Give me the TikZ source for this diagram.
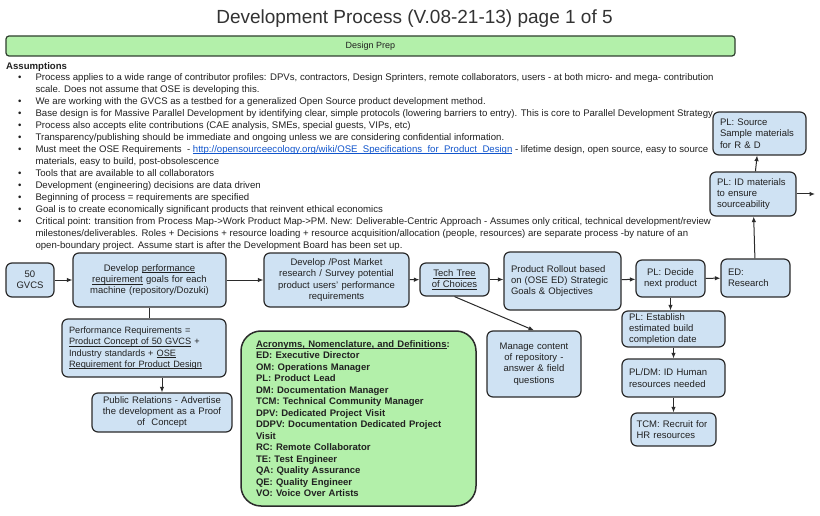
\documentclass[tikz,border=0pt]{standalone}
\usepackage{fontspec}
\setmainfont{Liberation Sans}
\usetikzlibrary{arrows.meta}
\definecolor{boxblue}{HTML}{CFE2F3}
\definecolor{boxgreen}{HTML}{B3F0AA}
\definecolor{linkblue}{HTML}{1155CC}
\definecolor{edge}{HTML}{2B2B2B}
\definecolor{gedge}{HTML}{2F3F2F}
\newcommand{\undl}[1]{\leavevmode\setbox0=\hbox{#1}\rlap{\rule[-1.7pt]{\wd0}{0.55pt}}\box0\relax}
\newcommand{\lnk}[1]{\textcolor{linkblue}{\undl{#1}}}

\begin{document}
\begin{tikzpicture}[x=1pt, y=-1pt,
  every node/.style={text=black!87, font=\fontsize{9.5}{11.3}\selectfont},
  box/.style={draw=edge, fill=boxblue, line width=1.2pt, rounded corners=6pt, inner xsep=7pt, inner ysep=0pt, align=left},
  cbox/.style={box, align=center, inner xsep=3pt},
  arr/.style={-{Latex[length=5.5pt,width=4.5pt]}, line width=1pt, draw=edge}]
  \useasboundingbox[fill=white] (0,0) rectangle (820,516);
  \node[text=black!80, font=\fontsize{19}{22}\selectfont] (title) at (414.5,19) {Development Process (V.08-21-13) page 1 of 5};
  \node[draw=gedge, fill=boxgreen, line width=1.2pt, rounded corners=3pt, minimum width=729pt, minimum height=20pt, inner sep=0pt, font=\fontsize{9}{11}\selectfont] (prep) at (370.5,46) {Design Prep};
  \node[anchor=west, inner sep=0pt, font=\bfseries\fontsize{9.6}{11}\selectfont] (asmh) at (6,67) {Assumptions};
  \node[anchor=north west, inner sep=0pt, font=\fontsize{9.6}{12}\selectfont] (asm) at (0,71.6) {\begin{tabular}{@{\hspace{18pt}}l@{\hspace{14pt}}l@{}}
    \textbullet & Process applies to a wide range of contributor profiles: DPVs, contractors, Design Sprinters, remote collaborators, users - at both micro- and mega- contribution\\
     & scale. Does not assume that OSE is developing this.\\
    \textbullet & We are working with the GVCS as a testbed for a generalized Open Source product development method.\\
    \textbullet & Base design is for Massive Parallel Development by identifying clear, simple protocols (lowering barriers to entry). This is core to Parallel Development Strategy\\
    \textbullet & Process also accepts elite contributions (CAE analysis, SMEs, special guests, VIPs, etc)\\
    \textbullet & Transparency/publishing should be immediate and ongoing unless we are considering confidential information.\\
    \textbullet & Must meet the OSE Requirements~ - \lnk{http://opensourceecology.org/wiki/OSE\_Specifications\_for\_Product\_Design} - lifetime design, open source, easy to source\\
     & materials, easy to build, post-obsolescence\\
    \textbullet & Tools that are available to all collaborators\\
    \textbullet & Development (engineering) decisions are data driven\\
    \textbullet & Beginning of process = requirements are specified\\
    \textbullet & Goal is to create economically significant products that reinvent ethical economics\\
    \textbullet & Critical point: transition from Process Map->Work Product Map->PM. New: Deliverable-Centric Approach - Assumes only critical, technical development/review\\
     & milestones/deliverables. Roles + Decisions + resource loading + resource acquisition/allocation (people, resources) are separate process -by nature of an\\
     & open-boundary project. Assume start is after the Development Board has been set up.
  \end{tabular}};
  \node[box, text width=79pt, minimum height=43pt] (src) at (759.5,133.5) {PL: Source\\Sample materials\\for R \& D};
  \node[box, text width=72pt, minimum height=44pt] (idm) at (753,194) {PL: ID materials\\to ensure\\sourceability};
  \coordinate (idmout) at (815,194);
  \node[cbox, text width=42pt, minimum height=34pt] (gvcs) at (30,280) {50\\GVCS};
  \node[cbox, text width=147pt, minimum height=54pt] (dpr) at (149.5,280) {Develop \undl{performance}\\\undl{requirement} goals for each\\machine (repository/Dozuki)};
  \node[cbox, text width=139pt, minimum height=54pt] (dpm) at (336.5,280) {Develop /Post Market\\research / Survey potential\\product users' performance\\requirements};
  \node[cbox, text width=63pt, minimum height=33pt] (tt) at (454.5,279.5) {\undl{Tech Tree}\\\undl{of Choices}};
  \node[box, text width=103pt, minimum height=58pt] (pro) at (562.5,281) {Product Rollout based\\on (OSE ED) Strategic\\Goals \& Objectives};
  \node[cbox, text width=63pt, minimum height=37pt] (dec) at (670.5,278.5) {PL: Decide\\next product};
  \node[box, text width=55pt, minimum height=38pt] (edr) at (755.5,278) {ED:\\Research};
  \node[box, text width=150pt, minimum height=58pt, font=\fontsize{9.2}{11.3}\selectfont] (preq) at (144,348) {Performance Requirements =\\\undl{Product Concept of 50 GVCS} +\\Industry standards + \undl{OSE}\\\undl{Requirement for Product Design}};
  \node[cbox, text width=134pt, minimum height=39pt, font=\fontsize{9.5}{11}\selectfont] (pr) at (162,412.5) {Public Relations - Advertise\\the development as a Proof\\of~~Concept};
  \node[cbox, text width=88pt, minimum height=66pt] (mc) at (534,364) {Manage content\\of repository -\\answer \& field\\questions};
  \node[draw=edge, fill=boxgreen, line width=1.5pt, rounded corners=20pt, text width=205pt, inner xsep=15pt, minimum height=175pt, align=left, font=\bfseries\fontsize{9.5}{11.5}\selectfont] (acr) at (358.5,418.5) {\undl{Acronyms, Nomenclature, and Definitions}:\\ED: Executive Director\\OM: Operations Manager\\PL: Product Lead\\DM: Documentation Manager\\TCM: Technical Community Manager\\DPV: Dedicated Project Visit\\DDPV: Documentation Dedicated Project\\Visit\\RC: Remote Collaborator\\TE: Test Engineer\\QA: Quality Assurance\\QE: Quality Engineer\\VO: Voice Over Artists};
  \node[box, text width=89pt, minimum height=36pt] (est) at (673.5,329) {PL: Establish\\estimated build\\completion date};
  \node[box, text width=89pt, minimum height=38pt] (hr) at (673.5,378) {PL/DM: ID Human\\resources needed};
  \node[box, text width=74pt, inner xsep=5.5pt, minimum height=33pt] (tcm) at (673.5,429.5) {TCM: Recruit for\\HR resources};
  \draw[arr] (gvcs) -- (dpr);
  \draw[arr] (dpr) -- (dpm);
  \draw[arr] (dpm) -- (tt);
  \draw[arr] (tt.east) -- (tt.east -| pro.west);
  \draw[arr] (pro) -- (dec);
  \draw[arr] (dec) -- (edr);
  \draw[arr] (edr) -- (idm);
  \draw[arr] (idm) -- (src);
  \draw[arr] (idm.east) -- (idmout);
  \draw[line width=1pt, draw=edge] (dpr.south) -- (dpr.south |- preq.north);
  \draw[arr] (pr.north |- preq.south) -- (pr.north);
  \draw[arr] (tt.south) -- (mc.north);
  \draw[arr] (dec.south) -- (dec.south |- est.north);
  \draw[arr] (est) -- (hr);
  \draw[arr] (hr) -- (tcm);
\end{tikzpicture}
\end{document}
